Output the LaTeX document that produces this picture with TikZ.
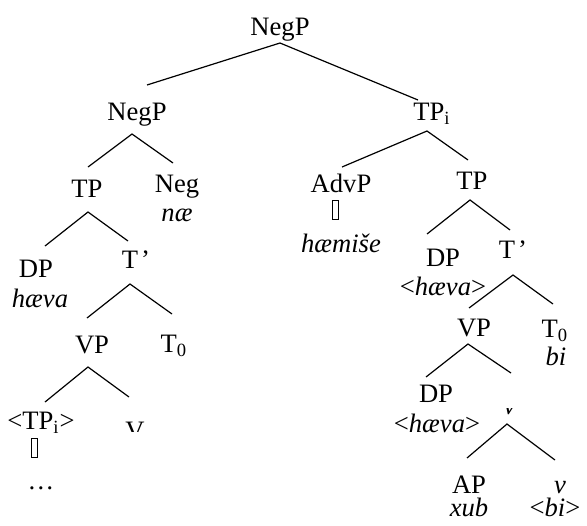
\documentclass[tikz,border=0pt]{standalone}
\usepackage{fontspec}
\setmainfont{Liberation Serif}
\begin{document}
\begin{tikzpicture}[x=0.5pt,y=-0.5pt,
  lab/.style={anchor=base,inner sep=0pt,font=\fontsize{13.3}{16}\selectfont},
  br/.style={line width=0.6pt},
  tofu/.style={draw,line width=0.45pt,minimum width=3pt,minimum height=9.5pt,inner sep=0pt}]
\useasboundingbox (0,0) rectangle (587,525);

% labels: centre x, baseline y
\node[lab] (negp) at (280,35) {NegP};
\node[lab] (negpl) at (137,120) {NegP};
\node[lab] (tpi) at (432,120) {TP\textsubscript{i}};
\node[lab] (tpl) at (87,197) {TP};
\node[lab] (neg) at (177,192) {Neg};
\node[lab] (nae) at (177,221) {\textit{næ}};
\node[lab] (advp) at (341,192) {AdvP};
\node[tofu] (advbox) at (335,210) {};
\node[lab] (hae) at (341,252) {\textit{hæmiše}};
\node[lab] (tpr) at (472,189) {TP};
\node[lab] (dpl) at (36,277) {DP};
\node[lab] (haeval) at (40,307) {\textit{hæva}};
\node[lab] (tbarl) at (136,268) {T\kern1.5pt’};
\node[lab] (dpr) at (443,266) {DP};
\node[lab] (haevar) at (443,295) {<\textit{hæva}>};
\node[lab] (tbarr) at (513,258) {T\kern1.5pt’};
\node[lab] (vpl) at (92,353) {VP};
\node[lab] (tzl) at (174,352) {T\textsubscript{0}};
\node[lab] (vpr) at (474,336) {VP};
\node[lab] (tzr) at (555,337) {T\textsubscript{0}};
\node[lab] (bi) at (556,365) {\textit{bi}};
\node[lab] (tpt) at (41,429) {<TP\textsubscript{i}>};
\node[tofu] (tpbox) at (34.5,448) {};
\node[lab] (dots) at (41,489) {…};
\node[lab] (dpr2) at (436,402) {DP};
\node[lab] (haevar2) at (437,432) {<\textit{hæva}>};
\node[lab] (ap) at (469,493) {AP};
\node[lab] (xub) at (469,516) {\textit{xub}};
\node[lab] (vsm) at (560,493) {\textit{v}};
\node[lab] (bit) at (555,516) {<\textit{bi}>};

% partly hidden labels
\begin{scope}
  \clip (100,380) rectangle (170,431);
  \node[lab] (vcap) at (135,439) {V};
\end{scope}
\begin{scope}
  \clip (490,408) rectangle (540,430);
  \node[lab] (vbar) at (514,414) {\textit{v}’};
\end{scope}

% branch points and ends
\coordinate (a1) at (280,43);  \coordinate (a1l) at (147,85);  \coordinate (a1r) at (418,100);
\coordinate (a2) at (132,134); \coordinate (a2l) at (88,167);  \coordinate (a2r) at (173,163);
\coordinate (a3) at (427,131); \coordinate (a3l) at (342,167); \coordinate (a3r) at (468,160);
\coordinate (a4) at (88,212);  \coordinate (a4l) at (45,246);  \coordinate (a4r) at (128,241);
\coordinate (a5) at (470,200); \coordinate (a5l) at (427,234); \coordinate (a5r) at (510,230);
\coordinate (a6) at (130,284); \coordinate (a6l) at (87,318);  \coordinate (a6r) at (172,314);
\coordinate (a7) at (513,275); \coordinate (a7l) at (469,308); \coordinate (a7r) at (553,304);
\coordinate (a8) at (88,367);  \coordinate (a8l) at (45,402);  \coordinate (a8r) at (129,397);
\coordinate (a9) at (468,344); \coordinate (a9l) at (426,377); \coordinate (a9r) at (511,373);
\coordinate (a10) at (507,424); \coordinate (a10l) at (467,458); \coordinate (a10r) at (555,460);

\foreach \n in {1,...,10}{
  \draw[br] (a\n l) -- (a\n) -- (a\n r);
}
\end{tikzpicture}
\end{document}
